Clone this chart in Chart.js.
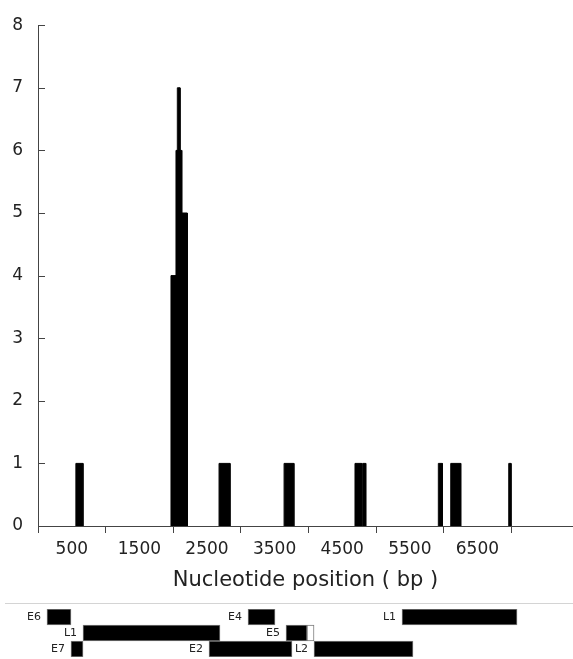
<!DOCTYPE html>
<html>
<head>
<meta charset="utf-8">
<script src="https://cdn.jsdelivr.net/npm/chart.js@4.4.0/dist/chart.umd.min.js"></script>
<style>
  html, body { margin: 0; padding: 0; background: #fff; }
  #wrap { position: relative; width: 573px; height: 659px; overflow: hidden; }
  #main { position: absolute; left: 0; top: 0; width: 573px; height: 600px; }
  #rule { position: absolute; left: 5px; top: 603px; width: 568px; border-top: 1px solid #d4d4d4; }
  #map { position: absolute; left: 0; top: 604px; width: 573px; height: 55px; }
</style>
</head>
<body>
<div id="wrap">
  <div id="main"><canvas id="histChart"></canvas></div>
  <div id="rule"></div>
  <div id="map"><canvas id="mapChart"></canvas></div>
</div>
<script>
// histogram bins (bp) and counts
const binStart = [560, 1967, 2041, 2061, 2101, 2126, 2678, 3640, 4689, 4803, 5922, 6105, 6963];
const binEnd   = [665, 2041, 2061, 2101, 2126, 2209, 2840, 3785, 4789, 4848, 5981, 6253, 6997];
const counts   = [1, 4, 6, 7, 6, 5, 1, 1, 1, 1, 1, 1, 1];

// axes
const genomeLength = 7914;
const xTickMarks = [0, 1000, 2000, 3000, 4000, 5000, 6000, 7000];
const xTickLabels = [500, 1500, 2500, 3500, 4500, 5500, 6500];
const yMax = 8;

// genome map (bp, same scale as the histogram)
const mapRows = ['r1', 'r2', 'r3'];
const geneNames = ['E6', 'E4', 'L1', 'L1', 'E5', 'E7', 'E2', 'L2'];
const geneStart = [133, 3107, 5385, 666, 3669, 488, 2530, 4083];
const geneEnd   = [488, 3506, 7086, 2692, 3979, 666, 3757, 5547];
const geneRow   = ['r1', 'r1', 'r1', 'r2', 'r2', 'r3', 'r3', 'r3'];
const openStart = [3979];
const openEnd   = [4083];
const openRow   = ['r2'];

const FONT = '"DejaVu Sans", "Liberation Sans", sans-serif';
const AXIS = '#444';
const TEXT = '#222';

// outline of the bins as a filled step line
const histPoints = [];
binStart.forEach((s, i) => {
    histPoints.push({ x: s, y: 0 }, { x: s, y: counts[i] },
                    { x: binEnd[i], y: counts[i] }, { x: binEnd[i], y: 0 });
});

const allXTicks = xTickMarks.concat(xTickLabels).sort((a, b) => a - b);

const innerTicks = {
    id: 'innerTicks',
    afterDraw(chart) {
        const y = chart.scales.y;
        const ctx = chart.ctx;
        ctx.save();
        ctx.strokeStyle = AXIS;
        ctx.lineWidth = 1;
        y.ticks.forEach(t => {
            const py = Math.round(y.getPixelForValue(t.value)) + 0.5;
            ctx.beginPath();
            ctx.moveTo(y.right, py);
            ctx.lineTo(y.right + 7, py);
            ctx.stroke();
        });
        ctx.restore();
    }
};

new Chart(document.getElementById('histChart'), {
    type: 'line',
    data: {
        datasets: [{
            data: histPoints,
            fill: 'origin',
            backgroundColor: '#000',
            borderColor: '#000',
            borderWidth: 1,
            pointRadius: 0,
            tension: 0,
            segment: {
                borderColor: c => (c.p0.parsed.y === 0 && c.p1.parsed.y === 0) ? 'rgba(0,0,0,0)' : '#000'
            }
        }]
    },
    options: {
        responsive: true,
        maintainAspectRatio: false,
        animation: false,
        layout: { padding: { top: 24, right: 0, bottom: 1, left: 0 } },
        plugins: {
            legend: { display: false },
            tooltip: { enabled: false }
        },
        scales: {
            x: {
                type: 'linear',
                min: 0,
                max: genomeLength,
                afterBuildTicks: s => { s.ticks = allXTicks.map(v => ({ value: v })); },
                afterFit: s => { s.height = 73; },
                title: {
                    display: true,
                    text: 'Nucleotide position ( bp )',
                    color: TEXT,
                    font: { family: FONT, size: 21 },
                    padding: { top: 0, bottom: 6 }
                },
                ticks: {
                    autoSkip: false,
                    maxRotation: 0,
                    minRotation: 0,
                    padding: 6,
                    color: TEXT,
                    font: { family: FONT, size: 17 },
                    callback: v => xTickLabels.includes(v) ? String(v) : ''
                },
                grid: {
                    drawOnChartArea: false,
                    tickLength: 7,
                    tickWidth: 1,
                    tickColor: c => (c.tick && xTickMarks.includes(c.tick.value)) ? AXIS : 'rgba(0,0,0,0)'
                },
                border: { color: AXIS, width: 1 }
            },
            y: {
                min: 0,
                max: yMax,
                afterFit: s => { s.width = 38; },
                ticks: {
                    stepSize: 1,
                    padding: 15,
                    color: TEXT,
                    font: { family: FONT, size: 17 }
                },
                grid: { drawOnChartArea: false, drawTicks: false },
                border: { color: AXIS, width: 1 }
            }
        }
    },
    plugins: [innerTicks]
});

const geneLabels = {
    id: 'geneLabels',
    afterDatasetsDraw(chart) {
        const ctx = chart.ctx;
        const meta = chart.getDatasetMeta(0);
        ctx.save();
        ctx.font = '11px ' + FONT;
        ctx.fillStyle = TEXT;
        ctx.textAlign = 'right';
        ctx.textBaseline = 'middle';
        meta.data.forEach((bar, i) => {
            const left = Math.min(bar.x, bar.base);
            ctx.fillText(geneNames[i], left - 6, bar.y);
        });
        ctx.restore();
    }
};

new Chart(document.getElementById('mapChart'), {
    type: 'bar',
    data: {
        labels: mapRows,
        datasets: [
            {
                data: geneStart.map((s, i) => ({ x: [s, geneEnd[i]], y: geneRow[i] })),
                backgroundColor: '#000',
                borderColor: '#7a7a7a',
                borderWidth: 1,
                borderSkipped: false,
                categoryPercentage: 1,
                barPercentage: 1,
                grouped: false
            },
            {
                data: openStart.map((s, i) => ({ x: [s, openEnd[i]], y: openRow[i] })),
                backgroundColor: '#fff',
                borderColor: '#7a7a7a',
                borderWidth: 1,
                borderSkipped: false,
                categoryPercentage: 1,
                barPercentage: 1,
                grouped: false
            }
        ]
    },
    options: {
        indexAxis: 'y',
        responsive: true,
        maintainAspectRatio: false,
        animation: false,
        layout: { padding: { top: 5, right: 0, bottom: 2, left: 38 } },
        plugins: { legend: { display: false }, tooltip: { enabled: false } },
        scales: {
            x: { type: 'linear', min: 0, max: genomeLength, display: false },
            y: { display: false }
        }
    },
    plugins: [geneLabels]
});
</script>
</body>
</html>
